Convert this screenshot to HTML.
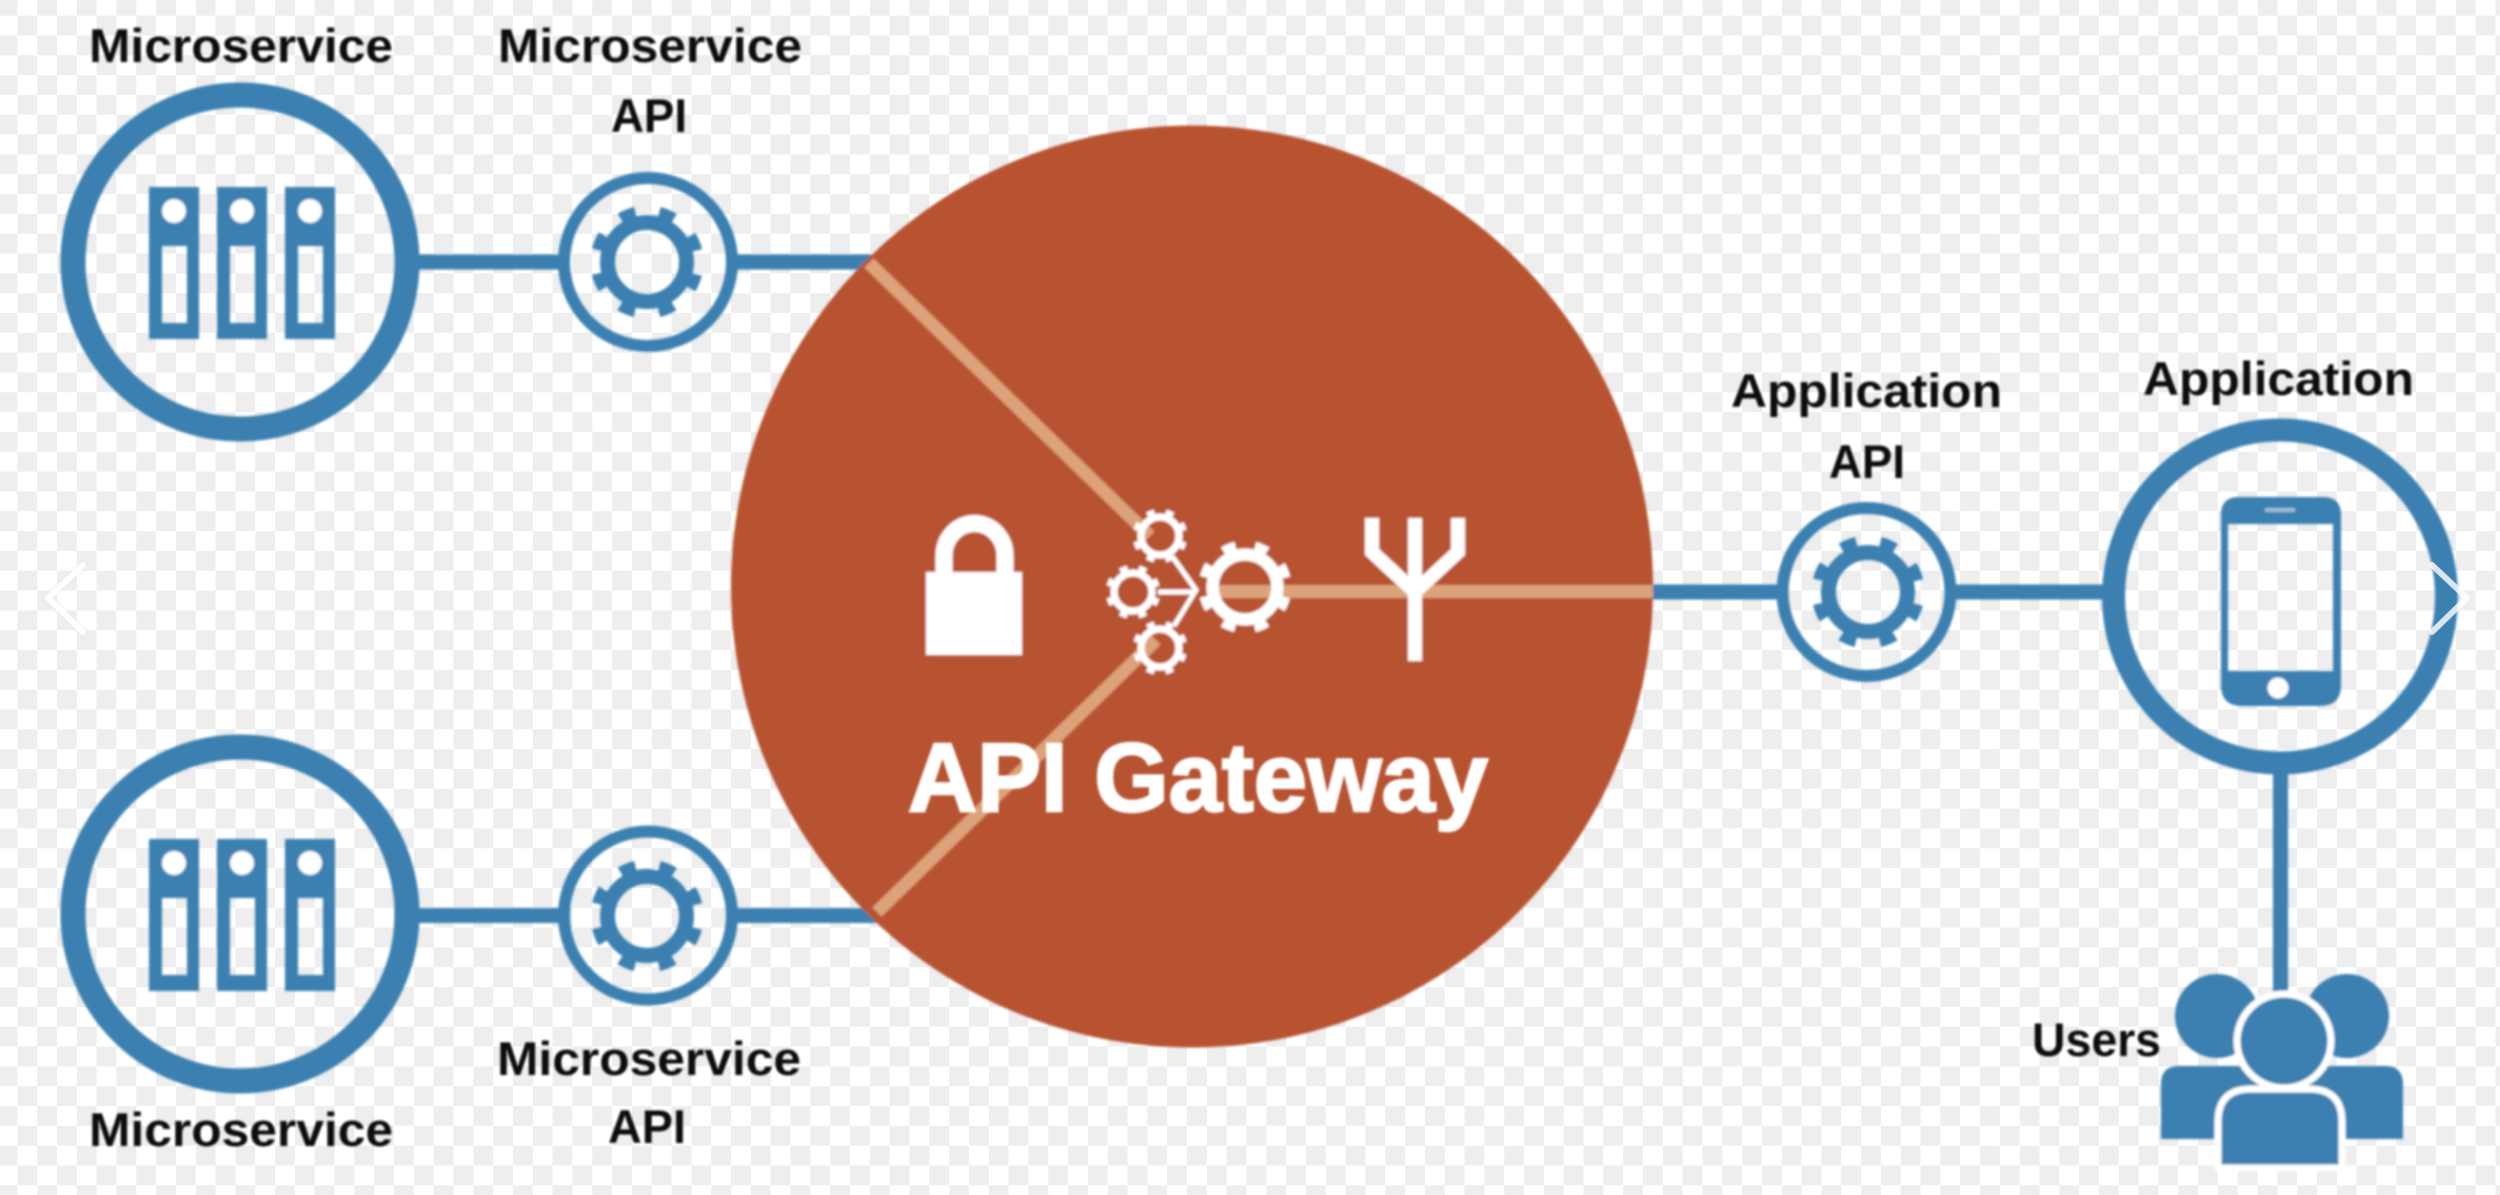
<!DOCTYPE html>
<html><head><meta charset="utf-8"><title>API Gateway</title>
<style>html,body{margin:0;padding:0;background:#fff;width:2500px;height:1195px;overflow:hidden}svg{display:block}
text{font-family:"Liberation Sans",sans-serif;font-weight:700;font-size:47px;fill:#111}</style></head>
<body>
<svg xmlns="http://www.w3.org/2000/svg" width="2500" height="1195" viewBox="0 0 2500 1195">
<defs>
<pattern id="ck" patternUnits="userSpaceOnUse" x="-2.5" y="-4.2" width="39.65" height="39.65">
<rect width="39.65" height="39.65" fill="#fff"/>
<rect width="19.82" height="19.82" fill="#eee"/>
<rect x="19.82" y="19.82" width="19.83" height="19.83" fill="#eee"/>
</pattern>
<filter id="b" x="-5%" y="-5%" width="110%" height="110%"><feGaussianBlur stdDeviation="1.3"/></filter>
<filter id="s" x="-50%" y="-50%" width="200%" height="200%"><feGaussianBlur stdDeviation="1.1"/></filter>
<g id="gear" fill="none" stroke="currentColor">
<circle r="39.5" stroke-width="15"/>
<circle r="51" stroke-width="11" stroke-dasharray="16 24.05" stroke-dashoffset="8" transform="rotate(22.5)"/>
</g>
<g id="srv">
<path fill-rule="evenodd" fill="#3a80b0" d="M0 0H50V152H0ZM13 59V136H38V59Z"/>
<circle cx="25" cy="24" r="12" fill="#fff"/>
</g>
</defs>
<rect width="2500" height="1195" fill="url(#ck)"/>
<g filter="url(#b)">
<!-- connectors -->
<g stroke="#3a80b0" stroke-width="15" fill="none">
<path d="M415 262H562M734 262H875M415 915.5H562M734 915.5H880M1640 592H1781M1952 592H2110M2280.5 770V1000"/>
</g>
<!-- big circle -->
<circle cx="1192" cy="586.5" r="461" fill="#b85232"/>
<g stroke="#dca27a" stroke-width="13" fill="none">
<path d="M869 263L1150 536M877 912L1156 640M1215 591.5H1653"/>
</g>
<!-- node rings -->
<g fill="none" stroke="#3a80b0">
<circle cx="240" cy="262" r="167" stroke-width="25"/>
<circle cx="240" cy="914" r="167" stroke-width="25"/>
<circle cx="2280" cy="596.5" r="166.5" stroke-width="23"/>
<circle cx="648" cy="262" r="84" stroke-width="12"/>
<circle cx="648" cy="915.5" r="84" stroke-width="12"/>
<circle cx="1866.5" cy="592" r="84" stroke-width="12"/>
</g>
<use href="#srv" x="149" y="187"/><use href="#srv" x="217" y="187"/><use href="#srv" x="285" y="187"/>
<use href="#srv" x="149" y="839"/><use href="#srv" x="217" y="839"/><use href="#srv" x="285" y="839"/>
<g color="#3a80b0">
<use href="#gear" transform="translate(647 262)"/>
<use href="#gear" transform="translate(647 916)"/>
<use href="#gear" transform="translate(1868 592)"/>
</g>
<!-- phone -->
<path fill-rule="evenodd" fill="#3a80b0" d="M2239 497H2323Q2341 497 2341 515V685Q2341 706 2320 706H2242Q2221 706 2221 685V515Q2221 497 2239 497ZM2228 524V671H2333V524Z"/>
<circle cx="2278" cy="688" r="10.5" fill="#fff"/>
<rect x="2265" y="508" width="30" height="4" fill="#9cc0da"/>
<!-- users -->
<circle cx="2217" cy="1016" r="42" fill="#3a80b0"/>
<circle cx="2347" cy="1016" r="42" fill="#3a80b0"/>
<path fill="#3a80b0" d="M2161 1139V1084Q2161 1066 2179 1066H2385Q2403 1066 2403 1084V1139Z"/>
<circle cx="2284" cy="1041" r="47" fill="#3a80b0" stroke="#fff" stroke-width="7"/>
<path fill="#3a80b0" stroke="#fff" stroke-width="7" d="M2218 1168V1122Q2218 1089 2251 1089H2309Q2342 1089 2342 1122V1168Z"/>
<!-- gateway icons -->
<g fill="#fff">
<rect x="926" y="572" width="96" height="83"/>
<path d="M944 575V556A30 32 0 0 1 1005 556V575" fill="none" stroke="#fff" stroke-width="17"/>
</g>
<g stroke="#fff" stroke-width="5" fill="none"><path d="M1172 556L1196 590L1174 626M1158 592H1196"/></g>
<g color="#fff">
<use href="#gear" transform="translate(1245 587) scale(.82)"/>
<use href="#gear" transform="translate(1160 536) scale(.48)"/>
<use href="#gear" transform="translate(1133 592) scale(.48)"/>
<use href="#gear" transform="translate(1160 648) scale(.48)"/>
</g>
<g fill="none" stroke="#fff" stroke-width="14">
<path d="M1415 518V661"/>
<path d="M1372 518V552L1415 592L1458 552V518"/>
</g>
</g>
<!-- labels -->
<g filter="url(#s)">
<text x="89" y="62" textLength="304" lengthAdjust="spacingAndGlyphs">Microservice</text>
<text x="498" y="62" textLength="304" lengthAdjust="spacingAndGlyphs">Microservice</text>
<text x="611" y="132" textLength="76" lengthAdjust="spacingAndGlyphs">API</text>
<text x="1731" y="407" textLength="271" lengthAdjust="spacingAndGlyphs">Application</text>
<text x="1829" y="478" textLength="76" lengthAdjust="spacingAndGlyphs">API</text>
<text x="2143" y="395" textLength="271" lengthAdjust="spacingAndGlyphs">Application</text>
<text x="2032" y="1056" textLength="129" lengthAdjust="spacingAndGlyphs">Users</text>
<text x="497" y="1075" textLength="304" lengthAdjust="spacingAndGlyphs">Microservice</text>
<text x="608" y="1143" textLength="78" lengthAdjust="spacingAndGlyphs">API</text>
<text x="89" y="1146" textLength="304" lengthAdjust="spacingAndGlyphs">Microservice</text>
<text x="908" y="811" textLength="580" lengthAdjust="spacingAndGlyphs" style="font-size:97px;fill:#fff;stroke:#fff;stroke-width:2.5px">API Gateway</text>
</g>
<!-- carousel chevrons -->
<g fill="none" stroke="#fff" stroke-width="6" stroke-linecap="round" stroke-linejoin="round">
<path d="M83 565L48 598L83 632" stroke="#e4e4e4" stroke-width="8" opacity=".5" filter="url(#s)"/>
<path d="M83 565L48 598L83 632"/>
<path d="M2432 565L2467 598L2432 632" stroke-opacity=".8"/>
</g>
</svg>
</body></html>
